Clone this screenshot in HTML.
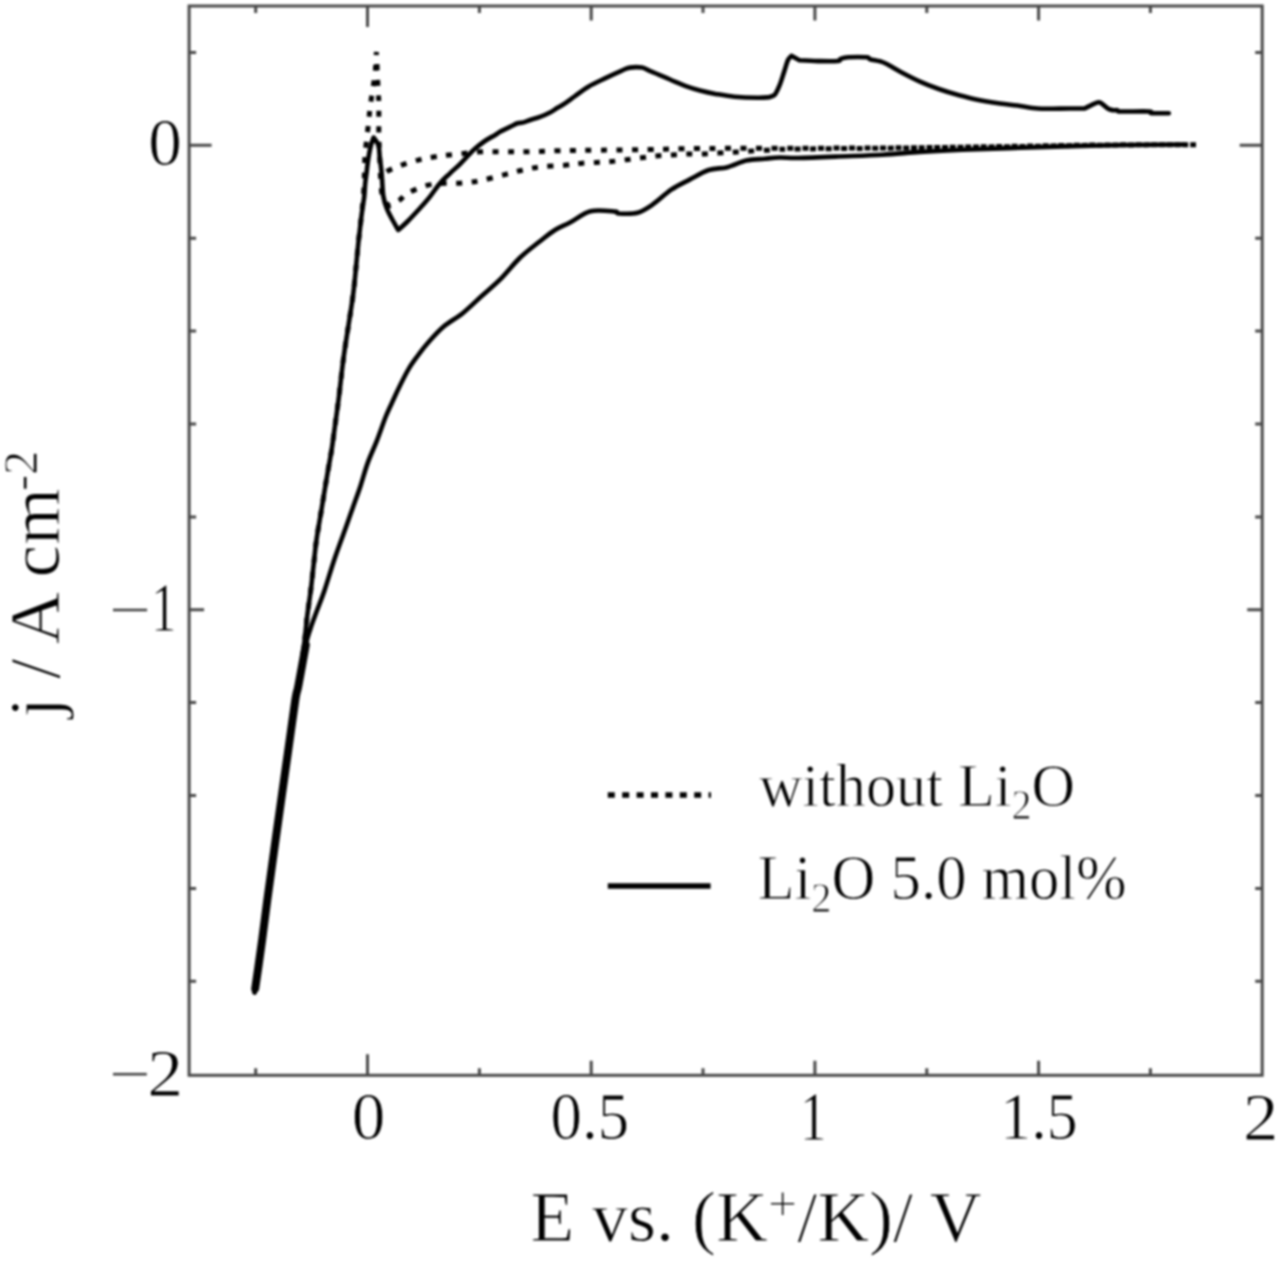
<!DOCTYPE html>
<html><head><meta charset="utf-8"><style>
html,body{margin:0;padding:0;background:#fff;}
body{width:1280px;height:1262px;overflow:hidden;}
svg{display:block;filter:grayscale(1) blur(0.8px);}
text{font-family:"Liberation Serif",serif;fill:#000;stroke:#fff;stroke-width:0.9px;}
</style></head><body>
<svg width="1280" height="1262" viewBox="0 0 1280 1262">
<rect x="189.1" y="6.0" width="1073.1000000000001" height="1069.3" fill="none" stroke="#484848" stroke-width="3"/><path d="M255.7,1075.3v-7M255.7,6.0v7M367.5,1075.3v-21M367.5,6.0v21M479.4,1075.3v-7M479.4,6.0v7M591.2,1075.3v-14.5M591.2,6.0v14.5M703.0,1075.3v-7M703.0,6.0v7M814.9,1075.3v-14.5M814.9,6.0v14.5M926.8,1075.3v-7M926.8,6.0v7M1038.6,1075.3v-14.5M1038.6,6.0v14.5M1150.4,1075.3v-7M1150.4,6.0v7M189.1,981.3h7M1262.2,981.3h-7M189.1,888.4h7M1262.2,888.4h-7M189.1,795.5h7M1262.2,795.5h-7M189.1,702.6h7M1262.2,702.6h-7M189.1,609.8h15M1262.2,609.8h-15M189.1,516.9h7M1262.2,516.9h-7M189.1,424.0h7M1262.2,424.0h-7M189.1,331.1h7M1262.2,331.1h-7M189.1,238.2h7M1262.2,238.2h-7M189.1,145.3h22.5M1262.2,145.3h-22.5M189.1,52.4h7M1262.2,52.4h-7" fill="none" stroke="#484848" stroke-width="3"/>
<g fill="none" stroke="#000" stroke-width="4.6" stroke-linejoin="round" stroke-linecap="round">
<path d="M254.6,992.4C255.2,988.2 257.0,976.2 258.3,967.4C259.6,958.6 260.7,950.8 262.2,939.6C263.7,928.4 265.3,914.9 267.3,900.0C269.3,885.1 271.9,866.7 274.2,850.0C276.5,833.3 278.9,816.3 281.2,800.0C283.5,783.7 285.6,768.7 288.0,752.0C290.4,735.3 293.6,711.2 295.3,700.0C297.1,688.8 297.0,694.2 298.5,685.0C300.0,675.8 302.7,656.5 304.1,645.0C305.6,633.5 306.1,625.0 307.2,616.0C308.3,607.0 309.6,599.2 310.7,590.7C311.8,582.2 312.6,573.5 313.6,565.0C314.6,556.5 315.1,549.5 316.5,539.8C317.9,530.0 320.2,517.6 322.0,506.5C323.8,495.4 325.9,482.6 327.5,473.3C329.1,464.0 330.2,458.8 331.5,450.7C332.8,442.6 333.9,433.4 335.1,425.0C336.3,416.6 337.1,410.9 338.5,400.0C339.9,389.1 341.7,372.1 343.3,359.8C344.9,347.6 346.6,337.6 348.3,326.5C350.0,315.4 351.9,304.4 353.3,293.3C354.7,282.2 355.8,269.4 356.7,260.0C357.6,250.6 358.2,244.0 359.0,237.0C359.8,230.0 360.5,223.7 361.2,218.0C361.9,212.3 362.8,206.7 363.3,203.0C363.8,199.3 364.0,199.3 364.3,196.0C364.6,192.7 364.8,187.6 365.2,183.4C365.6,179.2 366.3,174.9 366.8,170.7C367.3,166.5 367.7,162.2 368.4,158.0C369.1,153.8 370.0,148.7 370.9,145.3C371.8,141.9 373.2,138.8 373.6,137.5C374.4,138.8 377.5,141.9 378.5,145.3C379.5,148.7 379.3,153.8 379.8,158.0C380.3,162.2 381.0,166.5 381.4,170.7C381.8,174.9 382.0,179.2 382.3,183.4C382.6,187.6 382.6,191.9 383.3,196.0C384.0,200.1 385.2,204.4 386.7,208.2C388.1,212.0 390.1,215.4 392.0,219.0C393.9,222.6 397.2,228.2 398.2,230.0C399.8,228.6 403.9,225.1 407.5,221.5C411.1,217.9 416.2,212.3 420.0,208.2C423.8,204.0 426.7,200.8 430.0,196.6C433.3,192.4 436.7,187.1 440.0,183.2C443.3,179.3 446.7,176.5 450.0,173.3C453.3,170.1 457.0,167.1 460.0,164.1C463.0,161.1 465.7,158.1 468.2,155.5C470.7,152.9 472.1,151.2 474.9,148.8C477.7,146.4 481.6,143.3 484.9,141.0C488.2,138.7 492.3,136.7 494.8,135.2C497.3,133.7 497.5,133.2 500.0,131.8C502.5,130.4 507.1,128.3 510.0,126.9C512.9,125.5 515.4,124.0 517.5,123.3C519.6,122.6 520.4,123.1 522.5,122.6C524.6,122.0 527.1,121.0 530.0,120.0C532.9,119.0 536.7,118.2 540.0,116.9C543.3,115.7 547.1,114.0 550.0,112.5C552.9,111.0 555.0,109.3 557.5,107.8C560.0,106.3 562.2,105.2 565.0,103.3C567.8,101.4 570.6,99.3 574.5,96.5C578.4,93.7 583.1,89.8 588.4,86.7C593.6,83.6 600.5,80.6 606.0,77.9C611.5,75.2 617.3,72.5 621.3,70.8C625.3,69.1 626.5,68.1 630.0,67.6C633.5,67.1 638.7,67.1 642.0,67.6C645.3,68.1 646.0,69.3 649.7,70.8C653.4,72.3 659.8,75.0 664.0,76.8C668.2,78.6 671.3,80.2 674.9,81.7C678.5,83.2 681.6,84.6 685.8,86.1C690.0,87.6 695.0,89.2 700.0,90.5C705.0,91.8 709.9,92.9 715.6,93.9C721.3,94.9 727.4,96.1 734.4,96.7C741.4,97.3 752.0,97.7 757.8,97.8C763.6,97.9 767.5,97.3 769.4,97.2C770.3,96.7 773.3,96.4 775.0,94.4C776.7,92.4 778.1,88.9 779.7,85.0C781.3,81.1 783.0,75.1 784.4,70.9C785.8,66.7 786.9,62.2 788.1,59.7C789.3,57.2 790.9,56.5 791.4,55.9C792.7,56.6 798.1,59.5 799.4,60.2C802.5,60.4 811.6,61.0 818.0,61.1C824.4,61.2 834.0,61.4 837.8,61.0C841.6,60.6 838.9,59.5 840.6,58.9C842.3,58.3 843.7,57.6 848.1,57.3C852.5,57.0 863.1,57.0 866.8,57.3C870.4,57.6 867.8,58.5 870.0,59.2C872.2,59.9 877.3,60.5 880.0,61.3C882.7,62.1 882.7,61.9 886.2,63.8C889.8,65.6 895.6,69.2 901.2,72.2C906.9,75.2 913.8,78.8 920.0,81.6C926.2,84.4 932.5,86.8 938.8,89.0C945.0,91.2 951.2,93.0 957.5,94.7C963.8,96.4 969.2,97.9 976.2,99.4C983.3,100.9 993.2,102.5 1000.0,103.5C1006.8,104.5 1010.9,104.7 1017.2,105.5C1023.5,106.3 1030.7,108.0 1037.8,108.5C1044.9,109.0 1052.2,108.6 1060.0,108.6C1067.8,108.6 1080.5,108.5 1084.6,108.5C1085.7,108.0 1088.8,106.3 1091.0,105.3C1093.2,104.3 1095.8,102.9 1097.5,102.5C1099.2,102.1 1099.2,101.9 1100.9,102.9C1102.6,103.9 1105.8,107.3 1107.8,108.5C1109.8,109.7 1111.4,109.9 1113.0,110.2C1114.6,110.5 1116.0,110.0 1117.3,110.2C1118.6,110.4 1115.4,111.3 1120.7,111.5C1126.0,111.7 1143.8,111.2 1149.0,111.5C1154.2,111.8 1148.3,112.9 1151.6,113.2C1154.9,113.5 1165.9,113.2 1168.8,113.2"/>
<path d="M1183.6,144.5C1169.7,144.7 1128.9,144.9 1100.0,145.5C1071.1,146.1 1033.8,147.3 1010.0,148.1C986.2,148.8 972.5,149.4 957.5,150.0C942.5,150.6 932.5,151.1 920.0,151.9C907.5,152.7 896.6,153.9 882.5,154.7C868.4,155.5 849.7,156.0 835.6,156.6C821.5,157.2 807.3,157.8 798.0,158.0C788.7,158.2 785.5,157.4 780.0,157.5C774.5,157.6 770.6,158.2 765.0,158.8C759.4,159.3 752.5,159.2 746.2,160.6C740.0,162.0 733.8,165.6 727.5,167.2C721.2,168.8 715.0,168.0 708.8,170.0C702.5,172.0 696.2,176.1 690.0,179.4C683.8,182.7 677.5,185.5 671.2,189.7C665.0,193.9 658.1,200.9 652.5,204.7C646.9,208.5 643.1,211.3 637.5,212.8C631.9,214.2 622.5,213.7 618.8,213.5C615.0,213.3 619.7,212.0 615.0,211.6C610.3,211.2 598.1,209.4 590.6,211.2C583.1,213.1 575.9,219.4 570.0,222.5C564.1,225.6 560.0,226.9 555.0,230.0C550.0,233.1 545.9,236.6 540.0,241.2C534.1,245.9 526.2,251.7 519.7,258.0C513.2,264.3 507.0,272.6 500.7,278.9C494.4,285.2 488.0,290.3 481.7,296.0C475.4,301.7 469.0,308.1 462.7,313.2C456.4,318.3 449.5,321.6 443.7,326.5C437.9,331.4 432.4,337.8 428.0,342.7C423.6,347.6 420.8,351.7 417.6,356.0C414.4,360.3 411.9,363.6 409.0,368.4C406.1,373.2 403.0,379.5 400.5,384.6C398.0,389.7 396.2,393.5 393.8,398.8C391.4,404.1 388.6,409.5 385.8,416.5C383.0,423.5 379.9,433.0 376.9,440.6C373.9,448.2 370.8,454.5 368.0,462.1C365.2,469.7 362.9,478.6 360.4,486.2C357.9,493.8 355.3,500.5 352.8,507.7C350.3,514.9 348.1,521.0 345.2,529.3C342.2,537.5 338.6,547.0 335.1,557.2C331.6,567.4 327.4,581.7 324.4,590.7C321.3,599.7 319.1,604.7 316.8,611.0C314.5,617.3 312.2,623.0 310.4,628.7C308.6,634.4 307.8,635.6 305.8,645.0C303.8,654.4 300.2,675.8 298.5,685.0C296.8,694.2 297.1,688.8 295.3,700.0C293.6,711.2 290.4,735.3 288.0,752.0C285.6,768.7 283.5,783.7 281.2,800.0C278.9,816.3 276.5,833.3 274.2,850.0C271.9,866.7 269.3,885.1 267.3,900.0C265.3,914.9 263.7,928.4 262.2,939.6C260.7,950.8 259.6,958.6 258.3,967.4C257.0,976.2 255.2,988.2 254.6,992.4"/>
<path d="M305.8,645.0C304.6,651.7 300.2,675.8 298.5,685.0C296.8,694.2 297.1,688.8 295.3,700.0C293.6,711.2 290.4,735.3 288.0,752.0C285.6,768.7 283.5,783.7 281.2,800.0C278.9,816.3 276.5,833.3 274.2,850.0C271.9,866.7 269.3,885.1 267.3,900.0C265.3,914.9 263.7,928.4 262.2,939.6C260.7,950.8 259.5,959.2 258.3,967.4C257.1,975.5 255.7,985.0 255.2,988.5" stroke-width="8"/>
</g>
<g fill="none" stroke="#000" stroke-width="5" stroke-dasharray="6 9.5" stroke-linecap="butt">
<path d="M254.6,992.4C255.2,988.2 257.0,976.2 258.3,967.4C259.6,958.6 260.7,950.8 262.2,939.6C263.7,928.4 265.3,914.9 267.3,900.0C269.3,885.1 271.9,866.7 274.2,850.0C276.5,833.3 278.9,816.3 281.2,800.0C283.5,783.7 285.6,768.7 288.0,752.0C290.4,735.3 293.6,711.2 295.3,700.0C297.1,688.8 297.0,694.2 298.5,685.0C300.0,675.8 302.7,656.5 304.1,645.0C305.6,633.5 306.1,625.0 307.2,616.0C308.3,607.0 309.6,599.2 310.7,590.7C311.8,582.2 312.6,573.5 313.6,565.0C314.6,556.5 315.1,549.5 316.5,539.8C317.9,530.0 320.2,517.6 322.0,506.5C323.8,495.4 325.9,482.6 327.5,473.3C329.1,464.0 330.2,458.8 331.5,450.7C332.8,442.6 333.9,433.4 335.1,425.0C336.3,416.6 337.1,410.9 338.5,400.0C339.9,389.1 341.7,372.1 343.3,359.8C344.9,347.6 346.6,337.6 348.3,326.5C350.0,315.4 351.9,304.4 353.3,293.3C354.7,282.2 355.8,269.4 356.7,260.0C357.6,250.6 358.2,244.0 359.0,237.0C359.8,230.0 360.5,224.3 361.2,218.0C361.9,211.7 362.7,205.0 363.2,199.0C363.7,193.0 364.0,187.2 364.2,182.0C364.4,176.8 364.4,172.8 364.6,168.0C364.8,163.2 364.6,160.5 365.2,153.0C365.8,145.5 367.7,130.8 368.5,123.2C369.3,115.6 369.4,112.8 370.1,107.4C370.8,102.0 371.6,96.6 372.5,90.7C373.4,84.8 374.6,78.5 375.2,72.0C375.8,65.5 376.2,55.3 376.4,52.0C376.7,57.9 377.6,78.8 378.0,87.5C378.4,96.2 378.7,96.2 378.8,104.0C378.9,111.8 378.7,126.0 378.8,134.0C378.9,142.0 379.2,144.7 379.5,152.0C379.8,159.3 380.1,170.7 380.6,178.0C381.1,185.3 381.1,191.3 382.5,196.0C383.9,200.7 387.9,204.3 389.0,206.0C390.8,205.0 396.6,202.1 399.7,200.0C402.8,197.9 402.7,195.7 407.4,193.2C412.1,190.7 421.9,186.8 428.0,185.2C434.1,183.5 438.4,183.7 444.1,183.3C449.9,182.9 456.4,183.4 462.5,182.9C468.6,182.4 474.0,181.9 480.9,180.6C487.8,179.2 497.0,176.5 503.9,174.8C510.8,173.1 516.2,171.5 522.3,170.2C528.4,168.9 533.7,167.6 540.7,166.8C547.7,166.0 557.8,165.9 564.4,165.3C571.0,164.7 575.0,163.9 580.3,163.4C585.6,162.9 591.1,162.8 596.2,162.5C601.4,162.2 606.2,162.1 611.2,161.6C616.2,161.1 621.2,160.3 626.2,159.7C631.2,159.1 636.2,158.4 641.2,157.8C646.2,157.2 651.2,156.4 656.2,155.9C661.2,155.4 666.2,155.3 671.2,155.0C676.2,154.7 681.2,154.2 686.2,154.1C691.2,153.9 696.0,154.3 701.2,154.1C706.5,153.9 712.7,153.4 718.0,153.1C723.3,152.8 728.0,152.5 733.0,152.2C738.0,151.9 742.7,151.6 748.0,151.2C753.3,150.9 760.0,150.6 765.0,150.3C770.0,150.0 772.2,149.6 778.0,149.4C783.8,149.2 779.7,149.2 800.0,149.0C820.3,148.8 866.7,148.4 900.0,148.0C933.3,147.6 966.7,147.0 1000.0,146.5C1033.3,146.0 1067.3,145.3 1100.0,145.0C1132.7,144.7 1180.0,144.8 1196.0,144.7"/>
<path d="M1196.0,144.7C1180.0,144.8 1132.7,144.8 1100.0,145.2C1067.3,145.5 1033.3,146.4 1000.0,146.8C966.7,147.2 933.3,147.6 900.0,147.8C866.7,148.0 833.3,148.1 800.0,148.2C766.7,148.3 725.0,148.3 700.0,148.5C675.0,148.7 666.7,149.2 650.0,149.5C633.3,149.8 615.0,150.0 600.0,150.2C585.0,150.4 572.2,150.4 560.0,150.7C547.8,151.0 536.2,151.6 526.9,151.8C517.5,152.0 511.6,151.8 503.9,151.8C496.2,151.8 488.6,151.4 480.9,151.8C473.2,152.2 465.2,153.3 457.9,154.1C450.6,154.9 443.7,155.4 437.2,156.4C430.7,157.4 425.0,158.4 418.9,159.9C412.8,161.4 406.1,163.5 400.5,165.6C394.9,167.7 388.6,170.1 385.5,172.5C382.4,174.9 382.6,178.8 382.0,180.0"/>
</g>
<g transform="translate(148.23,165.10) scale(0.9893,1.0000)"><text font-size="68">0</text></g>
<g transform="translate(151.05,631.30) scale(0.7583,1.0239)"><text font-size="68">1</text></g>
<g transform="translate(147.13,1095.90) scale(1.0556,1.0000)"><text font-size="68">2</text></g>
<g transform="translate(351.73,1138.60) scale(0.9893,1.0000)"><text font-size="68">0</text></g>
<g transform="translate(550.53,1138.71) scale(0.9241,0.9935)"><text font-size="68">0.5</text></g>
<g transform="translate(800.00,1139.60) scale(0.7833,1.0250)"><text font-size="68">1</text></g>
<g transform="translate(1000.34,1138.79) scale(0.9092,1.0067)"><text font-size="68">1.5</text></g>
<g transform="translate(1242.88,1139.80) scale(1.0407,1.0067)"><text font-size="68">2</text></g>
<g transform="translate(530.20,1241.44) scale(0.9989,0.9909)"><text font-size="72">E vs. (K<tspan font-size="52" dy="-21">+</tspan><tspan dy="21">/K)/ V</tspan></text></g>
<g transform="translate(58.63,717.67) rotate(-90) scale(1.0160,1.0043)"><text font-size="72">j / A cm<tspan font-size="48" dy="-22" dx="-3">-2</tspan></text></g>
<g transform="translate(758.90,806.45) scale(1.0035,1.0377)"><text font-size="60">without Li<tspan font-size="40" dy="12">2</tspan><tspan dy="-12">O</tspan></text></g>
<g transform="translate(757.38,899.32) scale(1.0119,1.0396)"><text font-size="60">Li<tspan font-size="40" dy="12">2</tspan><tspan dy="-12">O 5.0 mol%</tspan></text></g>
<rect x="113" y="608.7" width="34.1" height="2.6" fill="#444"/><rect x="113" y="1072.9" width="33.8" height="2.6" fill="#444"/>
<g stroke="#000" stroke-width="5.5">
<line x1="607.8" y1="795" x2="711" y2="795" stroke-dasharray="7 7.4"/>
<line x1="607.8" y1="886" x2="710.6" y2="886"/>
</g>
</svg>
</body></html>
